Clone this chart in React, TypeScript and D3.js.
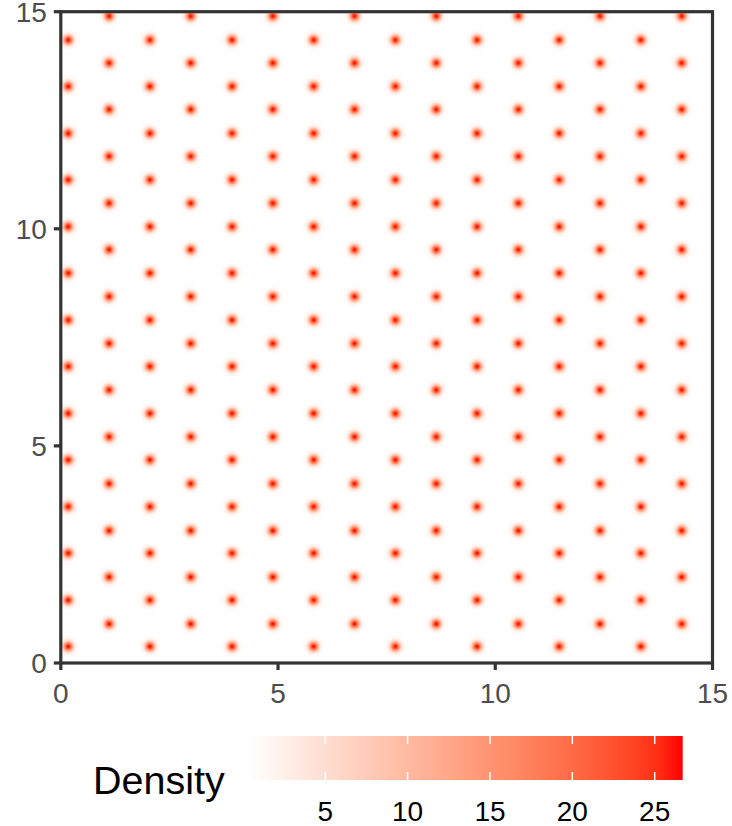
import React, { useMemo } from "react";
import * as d3 from "d3";

// Lattice point coordinates (data units)
const colX = [0.17, 1.11, 2.05, 2.99, 3.94, 4.88, 5.82, 6.76, 7.70, 8.64, 9.58, 10.53, 11.47, 12.41, 13.35, 14.29];
const rowsEven = [0.38, 1.45, 2.53, 3.60, 4.68, 5.75, 6.83, 7.90, 8.98, 10.05, 11.13, 12.20, 13.28, 14.35];
const rowsOdd = [0.90, 1.98, 3.05, 4.13, 5.21, 6.29, 7.36, 8.44, 9.52, 10.59, 11.67, 12.75, 13.82, 14.90];

const axisTicks = [0, 5, 10, 15];
const legendTicks = [5, 10, 15, 20, 25];
const densityRange = [0.33, 26.7];
const kernelSigma = 0.077;
const legendTitle = "Density";

const W = 732;
const H = 826;
const FONT = "'Liberation Sans', Arial, Helvetica, sans-serif";

export default function App() {
  const x = d3.scaleLinear().domain([0, 15]).range([60.8, 712.5]);
  const y = d3.scaleLinear().domain([0, 15]).range([663, 11.7]);
  const color = d3
    .scaleLinear<string>()
    .domain(densityRange)
    .range(["white", "red"])
    .interpolate(d3.interpolateLab)
    .clamp(true);

  const points = useMemo(() => {
    const pts: [number, number][] = [];
    colX.forEach((cx, i) => {
      const rows = i % 2 === 0 ? rowsEven : rowsOdd;
      rows.forEach((ry) => pts.push([cx, ry]));
    });
    return pts;
  }, []);

  const rasterUrl = useMemo(() => {
    const x0 = x(0), x1 = x(15), y0 = y(15), y1 = y(0);
    const w = Math.round(x1 - x0);
    const h = Math.round(y1 - y0);
    const canvas = document.createElement("canvas");
    canvas.width = w;
    canvas.height = h;
    const ctx = canvas.getContext("2d");
    if (!ctx) return "";
    const img = ctx.createImageData(w, h);
    const s2 = 2 * kernelSigma * kernelSigma;
    const amp = 1 / (Math.PI * s2);
    const cut = 5 * kernelSigma;
    const field = new Float64Array(w * h).fill(densityRange[0]);
    const pxPerX = w / 15;
    const pxPerY = h / 15;
    for (const [px, py] of points) {
      const iMin = Math.max(0, Math.floor((px - cut) * pxPerX));
      const iMax = Math.min(w - 1, Math.ceil((px + cut) * pxPerX));
      const jMin = Math.max(0, Math.floor((15 - py - cut) * pxPerY));
      const jMax = Math.min(h - 1, Math.ceil((15 - py + cut) * pxPerY));
      for (let j = jMin; j <= jMax; j++) {
        const dy = 15 - (j + 0.5) / pxPerY - py;
        for (let i = iMin; i <= iMax; i++) {
          const dx = (i + 0.5) / pxPerX - px;
          field[j * w + i] += amp * Math.exp(-(dx * dx + dy * dy) / s2);
        }
      }
    }
    for (let k = 0; k < w * h; k++) {
      const c = d3.rgb(color(field[k]));
      img.data[4 * k] = c.r;
      img.data[4 * k + 1] = c.g;
      img.data[4 * k + 2] = c.b;
      img.data[4 * k + 3] = 255;
    }
    ctx.putImageData(img, 0, 0);
    return canvas.toDataURL();
  }, [points]);

  // legend
  const lx0 = 248.3, lx1 = 682.7, ly0 = 736, ly1 = 780;
  const lscale = d3.scaleLinear().domain(densityRange).range([lx0, lx1]);
  const gradStops = d3.range(0, 21).map((k) => {
    const v = densityRange[0] + (k / 20) * (densityRange[1] - densityRange[0]);
    return { offset: `${(k / 20) * 100}%`, color: color(v) };
  });

  const axisColor = "#333333";
  const tickTextColor = "#4D4D4D";

  return (
    <svg width={W} height={H} style={{ position: "absolute", left: 0, top: 0 }} fontFamily={FONT}>
      <rect x={0} y={0} width={W} height={H} fill="white" />
      <defs>
        <linearGradient id="densGrad" x1="0" x2="1" y1="0" y2="0">
          {gradStops.map((s, i) => (
            <stop key={i} offset={s.offset} stopColor={s.color} />
          ))}
        </linearGradient>
      </defs>
      <image
        href={rasterUrl}
        x={x(0)}
        y={y(15)}
        width={x(15) - x(0)}
        height={y(0) - y(15)}
        preserveAspectRatio="none"
      />
      {/* panel frame */}
      <rect
        x={x(0)}
        y={y(15)}
        width={x(15) - x(0)}
        height={y(0) - y(15)}
        fill="none"
        stroke={axisColor}
        strokeWidth={3.2}
      />
      {/* y ticks */}
      {axisTicks.map((t) => (
        <g key={`y${t}`}>
          <line x1={x(0) - 7} x2={x(0)} y1={y(t)} y2={y(t)} stroke={axisColor} strokeWidth={3.2} />
          <text x={x(0) - 14} y={y(t)} dy="0.36em" textAnchor="end" fontSize={28} fill={tickTextColor}>
            {t}
          </text>
        </g>
      ))}
      {/* x ticks */}
      {axisTicks.map((t) => (
        <g key={`x${t}`}>
          <line x1={x(t)} x2={x(t)} y1={y(0)} y2={y(0) + 7} stroke={axisColor} strokeWidth={3.2} />
          <text x={x(t)} y={703} textAnchor="middle" fontSize={28} fill={tickTextColor}>
            {t}
          </text>
        </g>
      ))}
      {/* legend */}
      <text x={93} y={794} fontSize={39.5} fill="black">
        {legendTitle}
      </text>
      <rect x={lx0} y={ly0} width={lx1 - lx0} height={ly1 - ly0} fill="url(#densGrad)" />
      {legendTicks.map((t) => (
        <g key={`l${t}`}>
          <line x1={lscale(t)} x2={lscale(t)} y1={ly0} y2={ly0 + 8} stroke="white" strokeWidth={1.5} />
          <line x1={lscale(t)} x2={lscale(t)} y1={ly1 - 8} y2={ly1} stroke="white" strokeWidth={1.5} />
          <text x={lscale(t)} y={821} textAnchor="middle" fontSize={28} fill="black">
            {t}
          </text>
        </g>
      ))}
    </svg>
  );
}
